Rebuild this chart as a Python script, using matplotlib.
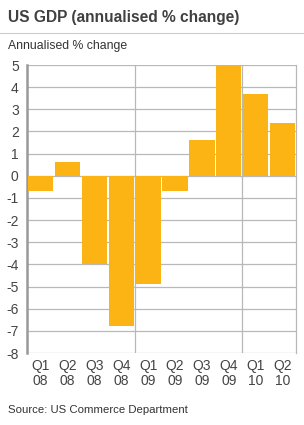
import numpy as np
import matplotlib.pyplot as plt
from matplotlib.lines import Line2D

# quarterly US GDP, annualised % change
quarters = ['Q1\n08', 'Q2\n08', 'Q3\n08', 'Q4\n08', 'Q1\n09',
            'Q2\n09', 'Q3\n09', 'Q4\n09', 'Q1\n10', 'Q2\n10']
gdp_change = [-0.7, 0.6, -4.0, -6.8, -4.9, -0.7, 1.6, 5.0, 3.7, 2.4]
y_ticks = list(range(-8, 6))

plt.rcParams['font.family'] = ['Liberation Sans', 'DejaVu Sans']
plt.rcParams['axes.unicode_minus'] = False

fig = plt.figure(figsize=(3.04, 4.25), dpi=100)
ax = fig.add_axes([0.089, 0.1694, 0.885, 0.6776])

x = np.arange(len(quarters))
ax.bar(x, gdp_change, width=0.94, color='#fcb415', zorder=3)

ax.set_xlim(-0.5, len(quarters) - 0.5)
ax.set_ylim(-8, 5)
ax.set_yticks(y_ticks)
ax.set_xticks(x)
ax.set_xticklabels(quarters, fontsize=10, color='#444444', linespacing=1.1)
ax.tick_params(axis='y', labelsize=10, colors='#444444', length=0, pad=6)
ax.tick_params(axis='x', length=0, pad=4)

# horizontal grid
ax.grid(axis='y', color='#b8b8b8', linewidth=0.9, zorder=0)
# year separators
for xv in [3.5, 7.5]:
    ax.axvline(xv, color='#b8b8b8', linewidth=0.9, zorder=0)

for s in ['top', 'bottom']:
    ax.spines[s].set_visible(False)
ax.spines['right'].set_color('#b8b8b8')
ax.spines['right'].set_linewidth(0.9)
ax.spines['left'].set_color('#999999')
ax.spines['left'].set_linewidth(1.8)

fig.text(0.026, 0.976, 'US GDP (annualised % change)', fontsize=11.2,
         fontweight='bold', color='#404040', va='top')
fig.add_artist(Line2D([0, 1], [0.922, 0.922], color='#cccccc', linewidth=0.8))
fig.text(0.026, 0.906, 'Annualised % change', fontsize=8.8, color='#333333', va='top')
fig.text(0.026, 0.035, 'Source: US Commerce Department', fontsize=8.2,
         color='#333333', va='center')

fig.savefig('out.png', dpi=100)
